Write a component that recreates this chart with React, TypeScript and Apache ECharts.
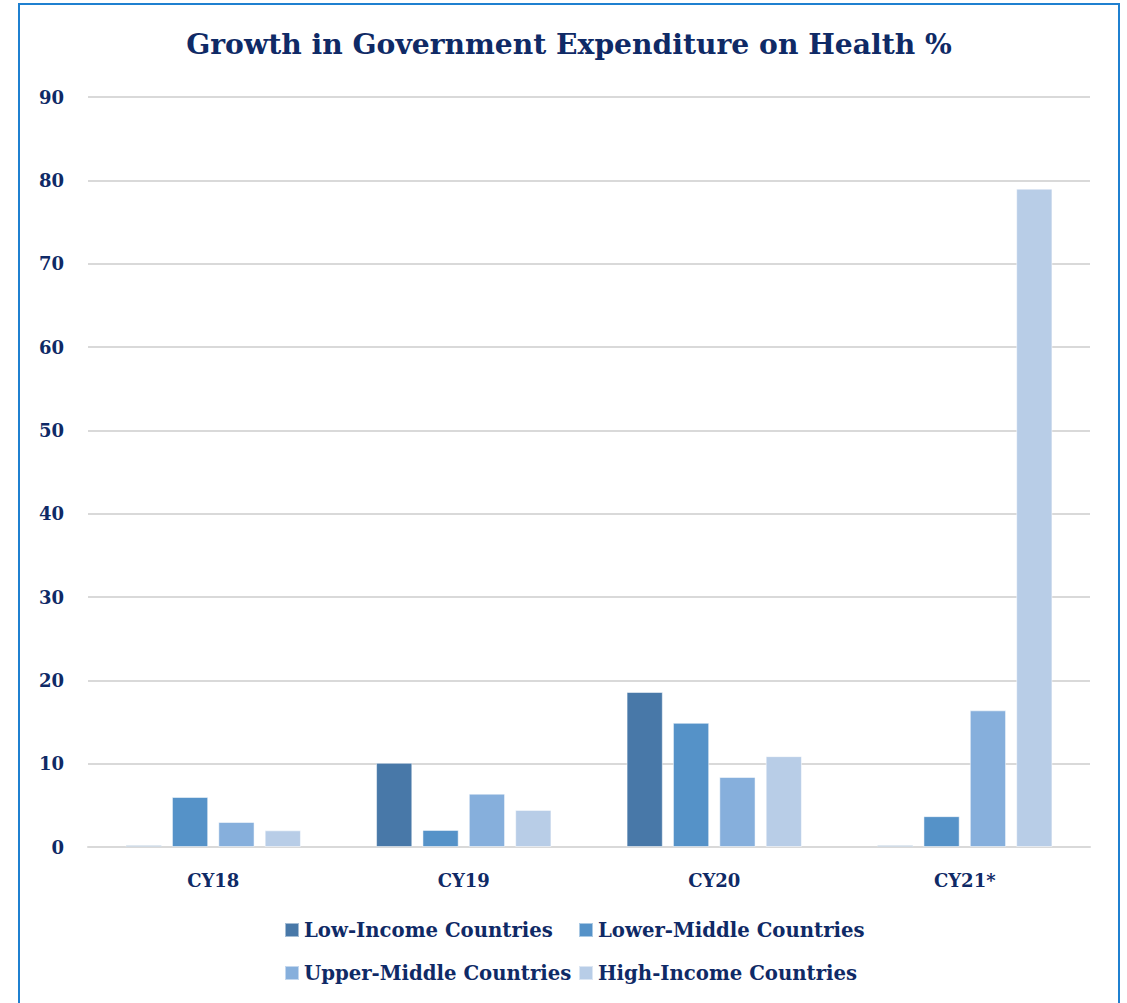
import React, { useEffect, useRef } from "react";
import * as echarts from "echarts";

const categories = ["CY18", "CY19", "CY20", "CY21*"];
const seriesNames = [
  "Low-Income Countries",
  "Lower-Middle Countries",
  "Upper-Middle Countries",
  "High-Income Countries",
];
const lowIncome = [0.2, 10.1, 18.6, 0.2];
const lowerMiddle = [6.0, 2.05, 14.9, 3.7];
const upperMiddle = [3.0, 6.4, 8.4, 16.4];
const highIncome = [2.0, 4.45, 10.9, 79.0];
const yTicks = [0, 10, 20, 30, 40, 50, 60, 70, 80, 90];

const colors = ["#4878a8", "#5592c8", "#86afdc", "#b8cde7"];
const navy = "#0f2a66";
const font = "DejaVu Serif";

export default function App() {
  const ref = useRef<HTMLDivElement>(null);
  useEffect(() => {
    if (!ref.current) return;
    const chart = echarts.init(ref.current, null, { renderer: "svg" });
    const values = [lowIncome, lowerMiddle, upperMiddle, highIncome];
    const legendPos = [
      { left: 284, top: 920 },
      { left: 578, top: 920 },
      { left: 284, top: 963 },
      { left: 578, top: 963 },
    ];
    chart.setOption({
      animation: false,
      title: {
        text: "Growth in Government Expenditure on Health %",
        left: 564,
        textAlign: "center",
        top: 25,
        textStyle: {
          color: navy,
          fontFamily: font,
          fontWeight: "bold",
          fontSize: 28.2,
        },
      },
      graphic: [
        {
          type: "rect",
          shape: { x: 19, y: 4, width: 1100, height: 1020 },
          style: { fill: "none", stroke: "#1f80d0", lineWidth: 2 },
          silent: true,
        },
      ],
      legend: legendPos.map((p, i) => ({
        data: [seriesNames[i]],
        left: p.left,
        top: p.top,
        padding: 0,
        itemWidth: 14,
        itemHeight: 14,
        itemGap: 5,
        icon: "rect",
        textStyle: {
          color: navy,
          fontFamily: font,
          fontWeight: "bold",
          fontSize: 19.7,
          padding: [0, 0, 0, 0],
        },
      })),
      grid: { left: 88, right: 37, top: 97, bottom: 156, containLabel: false },
      xAxis: {
        type: "category",
        data: categories,
        axisLine: { lineStyle: { color: "#d9d9d9", width: 2 } },
        axisTick: { show: false },
        axisLabel: {
          color: navy,
          fontFamily: font,
          fontWeight: "bold",
          fontSize: 18,
          margin: 24,
        },
      },
      yAxis: {
        type: "value",
        min: 0,
        max: 90,
        interval: 10,
        axisLine: { show: false },
        axisTick: { show: false },
        splitLine: { lineStyle: { color: "#d9d9d9", width: 2 } },
        axisLabel: {
          color: navy,
          fontFamily: font,
          fontWeight: "bold",
          fontSize: 18,
          margin: 24,
          formatter: (v: number) => (yTicks.includes(v) ? String(v) : ""),
        },
      },
      series: values.map((d, i) => ({
        name: seriesNames[i],
        type: "bar",
        data: d,
        barGap: "28%",
        barCategoryGap: "30%",
        itemStyle: { color: colors[i], borderColor: "rgba(255,255,255,0.5)", borderWidth: 1 },
      })),
    });
    return () => chart.dispose();
  }, []);
  return (
    <div
      ref={ref}
      style={{ position: "absolute", left: 0, top: 0, width: 1127, height: 1003, background: "#fff" }}
    />
  );
}
